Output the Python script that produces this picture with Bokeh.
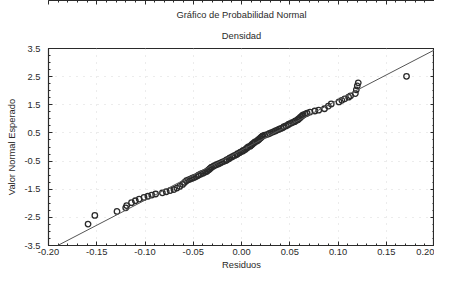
from bokeh.plotting import figure
from bokeh.models import (Slope, FixedTicker, LinearAxis, Title, Range1d,
                          CustomJSTickFormatter, ColumnDataSource)
from bokeh.embed import file_html
from bokeh.resources import INLINE

# ---- data ----
title_text = "Gráfico de Probabilidad Normal"
subtitle_text = "Densidad"
x_label = "Residuos"
y_label = "Valor Normal Esperado"

x_ticks = [-0.20, -0.15, -0.10, -0.05, 0.00, 0.05, 0.10, 0.15, 0.20]
y_ticks = [-3.5, -2.5, -1.5, -0.5, 0.5, 1.5, 2.5, 3.5]
x_minor = [-0.20, -0.19, -0.18, -0.17, -0.16, -0.15, -0.14, -0.13, -0.12, -0.11, -0.10,
           -0.09, -0.08, -0.07, -0.06, -0.05, -0.04, -0.03, -0.02, -0.01, 0.00,
           0.01, 0.02, 0.03, 0.04, 0.05, 0.06, 0.07, 0.08, 0.09, 0.10,
           0.11, 0.12, 0.13, 0.14, 0.15, 0.16, 0.17, 0.18, 0.19, 0.20]
y_minor = [-3.5, -3.25, -3.0, -2.75, -2.5, -2.25, -2.0, -1.75, -1.5, -1.25, -1.0, -0.75,
           -0.5, -0.25, 0.0, 0.25, 0.5, 0.75, 1.0, 1.25, 1.5, 1.75, 2.0, 2.25, 2.5,
           2.75, 3.0, 3.25, 3.5]

# reference line (fit)
fit_gradient = 17.8
fit_intercept = -0.11

# lower tail points
low_resid = [-0.159, -0.152, -0.129, -0.120, -0.119, -0.114, -0.110, -0.106, -0.101, -0.097,
             -0.093, -0.089, -0.082, -0.078, -0.074, -0.070, -0.067, -0.064, -0.061, -0.059]
low_expected = [-2.74, -2.43, -2.29, -2.16, -2.08, -1.98, -1.91, -1.85, -1.79, -1.75,
                -1.71, -1.67, -1.63, -1.59, -1.55, -1.51, -1.46, -1.40, -1.33, -1.26]

# dense central band
mid_resid = [-0.057, -0.055, -0.053, -0.051, -0.049, -0.047, -0.045, -0.044, -0.042, -0.040,
             -0.038, -0.036, -0.035, -0.034, -0.033, -0.032, -0.031, -0.029, -0.028, -0.026,
             -0.024, -0.022, -0.020, -0.018, -0.016, -0.015, -0.013, -0.012, -0.010, -0.009,
             -0.007, -0.005, -0.004, -0.002, -0.001, 0.001, 0.002, 0.004, 0.005, 0.006,
             0.007, 0.009, 0.010, 0.011, 0.012, 0.013, 0.014, 0.016, 0.017, 0.018,
             0.019, 0.020, 0.021, 0.022, 0.024, 0.027, 0.029, 0.031, 0.033, 0.035,
             0.037, 0.039, 0.041, 0.043, 0.044, 0.046, 0.048, 0.049, 0.051, 0.053,
             0.055, 0.056, 0.058, 0.059, 0.060, 0.061, 0.062, 0.063, 0.064, 0.066, 0.068]
mid_expected = [-1.20, -1.17, -1.14, -1.11, -1.08, -1.05, -1.02, -0.99, -0.96, -0.93,
                -0.90, -0.87, -0.84, -0.81, -0.78, -0.75, -0.72, -0.69, -0.66, -0.63,
                -0.60, -0.57, -0.54, -0.51, -0.48, -0.45, -0.42, -0.39, -0.36, -0.33,
                -0.30, -0.27, -0.24, -0.21, -0.18, -0.15, -0.12, -0.09, -0.06, -0.03,
                0.00, 0.03, 0.06, 0.09, 0.12, 0.15, 0.18, 0.21, 0.24, 0.27,
                0.30, 0.33, 0.36, 0.39, 0.42, 0.45, 0.48, 0.51, 0.54, 0.57,
                0.60, 0.63, 0.66, 0.69, 0.72, 0.75, 0.78, 0.81, 0.84, 0.87,
                0.90, 0.93, 0.96, 0.99, 1.02, 1.05, 1.08, 1.11, 1.14, 1.17, 1.20]

# upper tail points
high_resid = [0.071, 0.076, 0.080, 0.086, 0.090, 0.093, 0.101, 0.104, 0.107, 0.111,
              0.113, 0.118, 0.119, 0.120, 0.121, 0.171]
high_expected = [1.24, 1.28, 1.31, 1.36, 1.45, 1.53, 1.60, 1.66, 1.71, 1.77,
                 1.82, 1.90, 2.03, 2.17, 2.28, 2.51]

resid = low_resid + mid_resid + high_resid
expected = low_expected + mid_expected + high_expected

FONT = "Liberation Sans"
INK = "#2a2a2a"

p = figure(width=434, height=272, output_backend="svg", toolbar_location=None,
           x_range=Range1d(-0.20, 0.20), y_range=Range1d(-3.5, 3.5),
           min_border_left=48, min_border_right=0, min_border_bottom=0, min_border_top=0)
p.title.visible = False
p.outline_line_color = INK
p.outline_line_width = 1.2
p.background_fill_color = "white"
p.border_fill_color = "white"

# titles (later added = further out)
p.add_layout(Title(text=subtitle_text, align="center", text_font=FONT, text_font_size="7pt",
                   text_font_style="normal", text_color=INK, standoff=16), "above")
p.add_layout(Title(text=title_text, align="center", text_font=FONT, text_font_size="7pt",
                   text_font_style="normal", text_color=INK, standoff=1), "above")
p.add_layout(Title(text=" ", align="center", text_font=FONT, text_font_size="2pt",
                   text_color="white", standoff=2), "above")

fmt_x = CustomJSTickFormatter(code="return tick.toFixed(2);")
fmt_y = CustomJSTickFormatter(code="return tick.toFixed(1);")
fmt_blank = CustomJSTickFormatter(code="return '';")

for ax in p.xaxis:
    ax.ticker = FixedTicker(ticks=x_ticks, minor_ticks=x_minor)
    ax.formatter = fmt_x
    ax.axis_label = x_label
for ax in p.yaxis:
    ax.ticker = FixedTicker(ticks=y_ticks, minor_ticks=y_minor)
    ax.formatter = fmt_y
    ax.axis_label = y_label

for ax in list(p.xaxis) + list(p.yaxis):
    ax.axis_line_color = INK
    ax.major_tick_in = 4
    ax.major_tick_out = 0
    ax.minor_tick_in = 2
    ax.minor_tick_out = 0
    ax.major_tick_line_color = INK
    ax.minor_tick_line_color = INK
    ax.major_label_text_font = FONT
    ax.major_label_text_font_size = "7pt"
    ax.major_label_text_color = INK
    ax.axis_label_text_font = FONT
    ax.axis_label_text_font_size = "7pt"
    ax.axis_label_text_font_style = "normal"
    ax.axis_label_text_color = INK
    ax.major_label_standoff = 3
    ax.axis_label_standoff = 2

p.yaxis.major_label_orientation = "horizontal"
p.yaxis.major_label_standoff = 8
p.yaxis.axis_label_standoff = 4

# mirrored tick axes on top and right
for side in ("right", "above"):
    if side == "right":
        a = LinearAxis(ticker=FixedTicker(ticks=y_ticks, minor_ticks=y_minor))
    else:
        a = LinearAxis(ticker=FixedTicker(ticks=x_ticks, minor_ticks=x_minor))
    a.formatter = fmt_blank
    a.major_label_standoff = 0
    a.major_tick_in = 4
    a.major_tick_out = 0
    a.minor_tick_in = 2
    a.minor_tick_out = 0
    a.axis_line_color = INK
    a.major_tick_line_color = INK
    a.minor_tick_line_color = INK
    p.add_layout(a, side)

p.xgrid.grid_line_color = "#d8d8d8"
p.ygrid.grid_line_color = "#d8d8d8"
p.xgrid.grid_line_dash = "1 6"
p.ygrid.grid_line_dash = "1 6"

p.add_layout(Slope(gradient=fit_gradient, y_intercept=fit_intercept,
                   line_color="#555555", line_width=1))

src = ColumnDataSource(data=dict(x=resid, y=expected))
p.scatter("x", "y", source=src, marker="circle", size=5.5, fill_color=None,
          line_color=INK, line_width=1.3)

open("out.html", "w").write(file_html(p, INLINE))
